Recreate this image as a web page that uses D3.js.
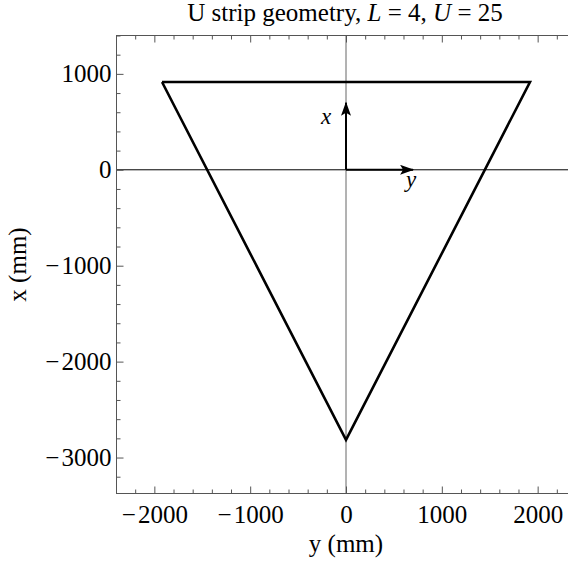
<!DOCTYPE html>
<html>
<head>
<meta charset="utf-8">
<script src="https://cdn.jsdelivr.net/npm/d3@7"></script>
<style>
  body { margin: 0; background: #fff; }
  svg text { font-family: "Liberation Serif", "Times New Roman", serif; fill: #000; }
  .axis path { stroke: #555; }
  .axis line { stroke: #555; }
</style>
</head>
<body>
<div id="vis"></div>
<script>
// tick values (mm)
var hTicks = [-2000, -1000, 0, 1000, 2000];      // horizontal axis: y
var vTicks = [-3000, -2000, -1000, 0, 1000];     // vertical axis: x
var minorStep = 200;

// strip outline, closed polygon (y, x) in mm
var stripY = [-1920, 1920, 0, -1920];
var stripX = [915, 915, -2815, 915];

// local coordinate arrows (mm)
var arrowLen = 700;

var width = 568, height = 574;
var frame = {left: 116.5, right: 575.5, top: 35.5, bottom: 493.5};

var svg = d3.select('#vis').append('svg')
    .attr('width', width)
    .attr('height', height);

var xScale = d3.scaleLinear().domain([-2395, 2395]).range([frame.left, frame.right]);
var yScale = d3.scaleLinear().domain([-3375, 1400]).range([frame.bottom, frame.top]);

function inDomain(scale) {
    var dom = scale.domain();
    return function(v){ return v >= dom[0] && v <= dom[1]; };
}
var minorH = d3.range(-2400, 2401, minorStep)
    .filter(function(v){ return hTicks.indexOf(v) < 0; }).filter(inDomain(xScale));
var minorV = d3.range(-3400, 1401, minorStep)
    .filter(function(v){ return vTicks.indexOf(v) < 0; }).filter(inDomain(yScale));

function fmt(d) { return d < 0 ? '\u2212\u200A' + Math.abs(d) : String(d); }

// zero lines
svg.append('line')
    .attr('x1', frame.left).attr('x2', frame.right)
    .attr('y1', yScale(0)).attr('y2', yScale(0))
    .attr('stroke', '#000').attr('stroke-width', 1);
svg.append('line')
    .attr('x1', xScale(0)).attr('x2', xScale(0))
    .attr('y1', frame.top).attr('y2', frame.bottom)
    .attr('stroke', '#666').attr('stroke-width', 1);

// axes: major ticks with labels, minor ticks without
function addAxis(axisFn, scale, values, size, label, transform) {
    var g = svg.append('g').attr('class', 'axis').attr('transform', transform);
    var ax = axisFn(scale).tickValues(values).tickSizeInner(size).tickSizeOuter(0).tickPadding(5);
    ax.tickFormat(label ? fmt : '');
    g.call(ax);
    g.select('.domain').remove();
    g.selectAll('text').style('font-size', '25px').attr('fill', '#000');
    return g;
}
var tB = 'translate(0,' + frame.bottom + ')', tT = 'translate(0,' + frame.top + ')';
var tL = 'translate(' + frame.left + ',0)', tR = 'translate(' + frame.right + ',0)';
var bottomAxis = addAxis(d3.axisBottom, xScale, hTicks, -7, true, tB);
bottomAxis.selectAll('text').attr('y', 29.5).attr('dy', null);
addAxis(d3.axisBottom, xScale, minorH, -4, false, tB);
addAxis(d3.axisTop, xScale, hTicks, -7, false, tT);
addAxis(d3.axisTop, xScale, minorH, -4, false, tT);
addAxis(d3.axisLeft, yScale, vTicks, -7, true, tL);
addAxis(d3.axisLeft, yScale, minorV, -4, false, tL);
addAxis(d3.axisRight, yScale, vTicks, -7, false, tR);
addAxis(d3.axisRight, yScale, minorV, -4, false, tR);

// frame
svg.append('rect')
    .attr('x', frame.left).attr('y', frame.top)
    .attr('width', frame.right - frame.left).attr('height', frame.bottom - frame.top)
    .attr('fill', 'none').attr('stroke', '#555').attr('stroke-width', 1);

// strip outline
var pts = stripY.map(function(v, i){ return [xScale(v), yScale(stripX[i])]; });
svg.append('path')
    .attr('d', d3.line()(pts))
    .attr('fill', 'none')
    .attr('stroke', '#000')
    .attr('stroke-width', 2.6)
    .attr('stroke-linejoin', 'miter');

// arrows
var defs = svg.append('defs');
defs.append('marker')
    .attr('id', 'head')
    .attr('viewBox', '0 0 14 10')
    .attr('refX', 13).attr('refY', 5)
    .attr('markerUnits', 'userSpaceOnUse')
    .attr('markerWidth', 15).attr('markerHeight', 10)
    .attr('orient', 'auto')
    .append('path').attr('d', 'M0,0 L14,5 L0,10 L3,5 Z').attr('fill', '#000');

svg.append('line')
    .attr('x1', xScale(0)).attr('y1', yScale(0))
    .attr('x2', xScale(0)).attr('y2', yScale(arrowLen))
    .attr('stroke', '#000').attr('stroke-width', 2)
    .attr('marker-end', 'url(#head)');
svg.append('line')
    .attr('x1', xScale(0)).attr('y1', yScale(0))
    .attr('x2', xScale(arrowLen)).attr('y2', yScale(0))
    .attr('stroke', '#000').attr('stroke-width', 2)
    .attr('marker-end', 'url(#head)');

svg.append('text')
    .attr('x', xScale(0) - 20).attr('y', yScale(arrowLen) + 21)
    .attr('text-anchor', 'middle')
    .style('font-size', '23px').style('font-style', 'italic')
    .text('x');
svg.append('text')
    .attr('x', xScale(arrowLen) - 2).attr('y', yScale(0) + 17)
    .attr('text-anchor', 'middle')
    .style('font-size', '23px').style('font-style', 'italic')
    .text('y');

// title
var title = svg.append('text')
    .attr('x', 345).attr('y', 21)
    .attr('text-anchor', 'middle')
    .style('font-size', '25px');
title.append('tspan').text('U strip geometry, ');
title.append('tspan').style('font-style', 'italic').text('L');
title.append('tspan').text(' = 4, ');
title.append('tspan').style('font-style', 'italic').text('U');
title.append('tspan').text(' = 25');

// axis labels
svg.append('text')
    .attr('x', xScale(0)).attr('y', 552)
    .attr('text-anchor', 'middle')
    .style('font-size', '25px')
    .text('y (mm)');
svg.append('text')
    .attr('transform', 'translate(26,' + ((frame.top + frame.bottom) / 2) + ') rotate(-90)')
    .attr('text-anchor', 'middle')
    .style('font-size', '25px')
    .text('x (mm)');
</script>
</body>
</html>
